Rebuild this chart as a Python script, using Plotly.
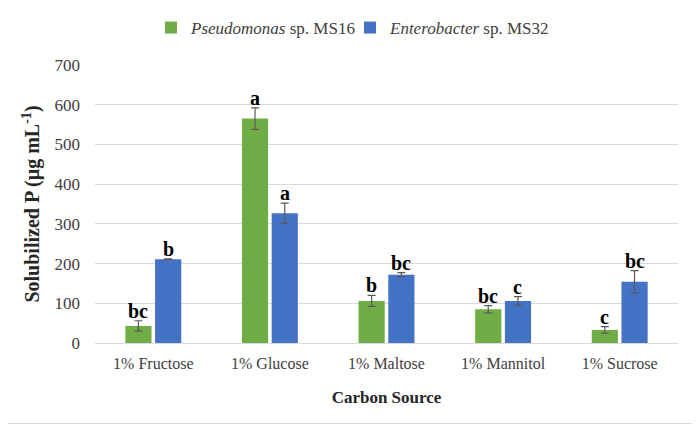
import plotly.graph_objects as go

categories = ["1% Fructose", "1% Glucose", "1% Maltose", "1% Mannitol", "1% Sucrose"]
pseudo_vals = [43, 565, 106, 85, 33]
pseudo_err = [13, 27, 14, 9, 8]
pseudo_letters = ["bc", "a", "b", "bc", "c"]
entero_vals = [211, 327, 172, 106, 154]
entero_err = [1, 25, 5, 11, 28]
entero_letters = ["b", "a", "bc", "c", "bc"]

GREEN = "#70AD47"
BLUE = "#4472C4"
FONT = "Liberation Serif"

OFF = 8  # page body margin
W, H = 700 - OFF, 425 - OFF
L, R, T, B = 95 - OFF, 22, 65 - OFF, 82
bargap = 0.49
bargroupgap = 0.12

fig = go.Figure()
fig.add_trace(go.Bar(
    x=categories, y=pseudo_vals, name="<i>Pseudomonas</i> sp. MS16",
    marker=dict(color=GREEN, line=dict(width=0)),
    error_y=dict(type="data", array=pseudo_err, color="#595959", thickness=1.2, width=4),
))
fig.add_trace(go.Bar(
    x=categories, y=entero_vals, name="<i>Enterobacter</i> sp. MS32",
    marker=dict(color=BLUE, line=dict(width=0)),
    error_y=dict(type="data", array=entero_err, color="#595959", thickness=1.2, width=4),
))

slot = (1 - bargap) / 2
off = slot / 2
for i, c in enumerate(categories):
    for vals, errs, letters, sgn in [(pseudo_vals, pseudo_err, pseudo_letters, -1),
                                     (entero_vals, entero_err, entero_letters, 1)]:
        fig.add_annotation(
            x=i + sgn * off, y=vals[i] + errs[i], xref="x", yref="y",
            text="<b>" + letters[i] + "</b>", showarrow=False,
            yanchor="bottom", yshift=-3,
            font=dict(family=FONT, size=20, color="black"),
        )

pw = W - L - R
ph = H - T - B
# right and bottom frame lines of the reference image
fig.add_shape(type="line", xref="paper", yref="paper",
              x0=(W - 1.5 - L) / pw, x1=(W - 1.5 - L) / pw,
              y0=-(B - 1.5) / ph, y1=1 + T / ph,
              line=dict(color="#D9D9D9", width=1), layer="below")
fig.add_shape(type="line", xref="paper", yref="paper",
              x0=-L / pw, x1=(W - 1.5 - L) / pw,
              y0=-(B - 1.5) / ph, y1=-(B - 1.5) / ph,
              line=dict(color="#D9D9D9", width=1), layer="below")

legend_y_px = 28 - OFF
fig.update_layout(
    width=W, height=H,
    margin=dict(l=L, r=R, t=T, b=B, autoexpand=False),
    paper_bgcolor="white", plot_bgcolor="white",
    barmode="group", bargap=bargap, bargroupgap=bargroupgap,
    font=dict(family=FONT, size=17, color="#404040"),
    showlegend=True,
    legend=dict(orientation="h", x=(350 - OFF - L) / pw, xanchor="center",
                y=1 + (T - legend_y_px) / ph, yanchor="middle",
                font=dict(family=FONT, size=17, color="#404040"), itemsizing="constant",
                traceorder="normal", entrywidth=154, entrywidthmode="pixels"),
    xaxis=dict(
        type="category", showgrid=False, showline=True, linecolor="#D9D9D9", linewidth=1,
        ticks="", ticklabelstandoff=6, tickfont=dict(family=FONT, size=16, color="#404040"),
        title=dict(text="<b>Carbon Source</b>", font=dict(family=FONT, size=17, color="#262626"), standoff=19),
    ),
    yaxis=dict(
        range=[0, 700], dtick=100, showgrid=True, gridcolor="#D9D9D9", gridwidth=1,
        zeroline=False, showline=False, ticks="", ticklabelstandoff=14,
        tickfont=dict(family=FONT, size=17, color="#404040"),
        title=dict(text="<b>Solubilized P (µg mL<sup>-1</sup>)</b>", font=dict(family=FONT, size=20, color="#262626"), standoff=9),
    ),
)

fig.write_html("out.html")
